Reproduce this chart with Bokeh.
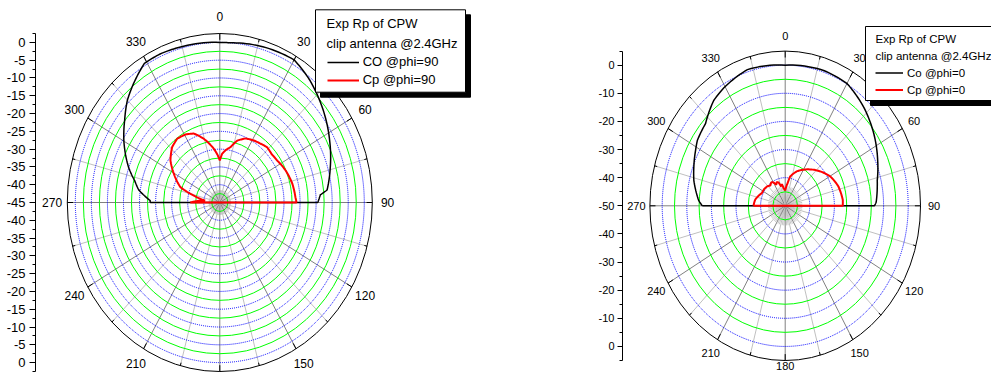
import numpy as np
from bokeh.plotting import figure
from bokeh.models import (Range1d, LinearAxis, FixedTicker, BoxAnnotation, Label,
                          Legend, LegendItem)
from bokeh.layouts import row
from bokeh.core.properties import value
from bokeh.embed import file_html
from bokeh.resources import INLINE

# ---------------- data (angle in degrees, gain in dB) ----------------
co90_ang = [-90, -88.5, -82, -77, -71, -60, -52, -45, -39, -31, -24, -16, 0, 4, 17, 30, 39, 51, 63, 74, 84, 86, 90]
co90_db = [-23.3, -23.3, -19.5, -17.8, -15.0, -10.5, -7.4, -4.3, -2.2, 0.6, 0.7, 0.4, 0.0, 0.0, 0.8, 1.3, -0.6, -3.6, -6.6, -9.2, -11.4, -13.6, -14.5]

cp90_ang = [-90, -83, -76.5, -70.6, -60.6, -52.4, -43.7, -36.5, -29.2, -22.7, -15.6, -7, -3, 0, 3, 7, 12.1, 17.3, 24, 31.3, 37, 43.6, 50, 56.5, 66.3, 76.8, 86.4, 90]
cp90_db = [-35.8, -40.4, -36.7, -32.0, -28.6, -25.6, -23.5, -22.7, -23.1, -24.0, -26.4, -29.8, -31.6, -33.2, -31.3, -30.2, -29.1, -26.8, -25.3, -24.6, -24.2, -23.6, -23.9, -23.6, -22.6, -21.8, -21.4, -21.1]

co0_ang = [-90, -87, -76.4, -69.7, -61.7, -57, -48, -37.8, -30.7, -17.6, 0, 18, 30.1, 42.4, 54.6, 66.8, 76.4, 80, 88, 90]
co0_db = [-16.3, -14.8, -11.8, -10.4, -8.6, -7.4, -6.4, -2.6, -1.2, 0.8, 0.0, 0.6, 0.2, -2.6, -5.8, -9.1, -11.5, -12.0, -13.0, -13.7]

cp0_ang = [-90, -80, -64.5, -55, -47, -40, -34, -30, -26, -22, -18, -14, -10, -6, 0, 4, 7, 11, 21, 30, 45.7, 60.4, 72.4, 84.8, 90]
cp0_db = [-37.1, -37.6, -39.5, -39.6, -39.9, -40.6, -39.9, -40.4, -41.7, -40.9, -41.3, -42.9, -42.2, -43.7, -44.6, -43.0, -41.9, -39.4, -36.9, -35.2, -32.0, -28.9, -27.3, -26.5, -26.6]

angle_labels = [0, 30, 60, 90, 120, 150, 180, 210, 240, 270, 300, 330]
left_ticks_db = [0, -5, -10, -15, -20, -25, -30, -35, -40, -45]
right_ticks_db = [0, -10, -20, -30, -40, -50]

legend_head = ["Exp Rp of CPW", "clip antenna @2.4GHz"]

FONT = "Liberation Sans"
H = 373


def polar_path(ang, db, floor, sub=10):
    """Trace a polar line between successive readings (arcs, as a polar plot draws them)."""
    a = np.asarray(ang, dtype=float)
    r = np.asarray(db, dtype=float) - floor
    xs, ys = [], []
    for i in range(len(a) - 1):
        f = np.linspace(0, 1, sub, endpoint=False)
        aa = np.radians(a[i] + (a[i + 1] - a[i]) * f)
        rr = r[i] + (r[i + 1] - r[i]) * f
        xs += list(rr * np.sin(aa))
        ys += list(rr * np.cos(aa))
    t = np.radians(a[-1])
    xs.append(r[-1] * np.sin(t))
    ys.append(r[-1] * np.cos(t))
    # close the trace (straight chord from +90 back to -90 through the centre)
    xs.append(xs[0])
    ys.append(ys[0])
    return xs, ys


def build(cfg, series, legend_labels):
    floor, top = cfg["floor"], cfg["top"]
    rmax = top - floor
    sx, sy = cfg["rx"] / rmax, cfg["ry"] / rmax
    cx, cy = cfg["cx"], cfg["cy"]
    fig_left, width, bl = cfg["fig_left"], cfg["width"], cfg["border_left"]
    frame_left = fig_left + bl

    def px2x(px):
        return (px - cx) / sx

    def px2y(py):
        return (cy - py) / sy

    p = figure(width=width, height=H, output_backend="svg", toolbar_location=None,
               x_range=Range1d(px2x(frame_left), px2x(fig_left + width)),
               y_range=Range1d(px2y(H), px2y(0)),
               x_axis_location=None, y_axis_location=None,
               min_border_left=bl, min_border_right=0, min_border_top=0, min_border_bottom=0,
               outline_line_color=None, background_fill_color="white", border_fill_color="white")
    p.grid.visible = False

    step = cfg["ring_step"]
    # fine spokes near the centre
    fxs, fys = [], []
    for a in range(0, 360, 5):
        if a % 15:
            t = np.radians(a)
            rr = 1.4 * step
            fxs.append([0, rr * np.sin(t)])
            fys.append([0, rr * np.cos(t)])
    p.multi_line(fxs, fys, line_color="#c8c8c8", line_width=1)
    # main spokes
    for a in range(0, 360, 15):
        t = np.radians(a)
        p.line([0, rmax * np.sin(t)], [0, rmax * np.cos(t)],
               line_color="#808080" if a % 30 == 0 else "#c0c0c0", line_width=1)
    # rings
    n = int(round(rmax / step))
    for k in range(1, n):
        r = k * step
        db = r + floor
        if abs(db % cfg["blue_step"]) < 1e-9:
            p.ellipse(0, 0, width=2 * r, height=2 * r, fill_alpha=0,
                      line_color="#0000ff", line_dash="1 1", line_width=1)
        else:
            p.ellipse(0, 0, width=2 * r, height=2 * r, fill_alpha=0,
                      line_color="#00ff00", line_width=1)
    p.ellipse(0, 0, width=2 * rmax, height=2 * rmax, fill_alpha=0, line_color="black", line_width=1)
    # outer angular ticks (inward)
    sc = (sx + sy) / 2
    txs, tys = [], []
    for a in range(0, 360, 15):
        t = np.radians(a)
        ln = (6 if a % 30 == 0 else 3) / sc
        txs.append([rmax * np.sin(t), (rmax - ln) * np.sin(t)])
        tys.append([rmax * np.cos(t), (rmax - ln) * np.cos(t)])
    p.multi_line(txs, tys, line_color="black", line_width=1)
    # angle labels
    labs = [a for a in angle_labels if a not in cfg["hide_angles"]]
    ta = np.radians(labs)
    rl = np.array([cfg["label_r"].get(a, 1.1) for a in labs]) * rmax
    p.text(x=rl * np.sin(ta), y=rl * np.cos(ta), text=[str(a) for a in labs],
           text_align="center", text_baseline="middle", text_font=value(FONT),
           text_font_size=cfg["angle_fs"], text_color="black")

    # curves
    renderers = []
    for (ang, db, color, lw) in series:
        xs, ys = polar_path(ang, db, floor)
        renderers.append(p.line(xs, ys, line_color=color, line_width=lw))

    # radial axis (mirrored scale)
    ticks, overrides = [], {}
    for d in cfg["ticks_db"]:
        rr = float(d - floor)
        for s in (1, -1):
            v = s * rr
            if v not in overrides:
                ticks.append(v)
                overrides[v] = str(d)
    minor = []
    m = cfg["minor_step"]
    k = 0
    while k * m <= rmax + 1e-9:
        minor += [k * m, -k * m]
        k += 1
    ax = LinearAxis(ticker=FixedTicker(ticks=sorted(ticks), minor_ticks=sorted(set(minor))),
                    major_label_overrides=overrides, bounds=(-rmax, rmax),
                    axis_line_color="black", major_tick_line_color="black", minor_tick_line_color="black",
                    major_tick_out=cfg["tick_out"], major_tick_in=0, minor_tick_out=3, minor_tick_in=0,
                    major_label_standoff=cfg["standoff"], major_label_text_font=FONT,
                    major_label_text_font_size=cfg["axis_fs"], major_label_text_color="black")
    p.add_layout(ax, "left")

    # legend frame with shadow
    bx0, by0, bx1, by1 = cfg["box"]
    off = 5
    p.add_layout(BoxAnnotation(left=px2x(bx0 + off), right=px2x(bx1 + off), top=px2y(by0 + off),
                               bottom=px2y(by1 + off), fill_color="black", fill_alpha=1,
                               line_color="black", line_alpha=1, line_dash="solid"))
    p.add_layout(BoxAnnotation(left=px2x(bx0), right=px2x(bx1), top=px2y(by0), bottom=px2y(by1),
                               fill_color="white", fill_alpha=1, line_color="black", line_width=1,
                               line_alpha=1, line_dash="solid"))
    tx, ty0, dy = cfg["head"]
    for i, txt in enumerate(legend_head):
        p.add_layout(Label(x=px2x(tx), y=px2y(ty0 + i * dy), text=txt, text_font=FONT,
                           text_font_size=cfg["legend_fs"], text_baseline="middle", text_align="left",
                           text_color="black"))
    lx, ltop = cfg["legend_pos"]
    gh = cfg["glyph_h"]
    leg = Legend(items=[LegendItem(label=legend_labels[i], renderers=[renderers[i]]) for i in range(2)],
                 location=(lx - frame_left, H - (ltop + 2 * gh + 2)),
                 padding=0, margin=0, spacing=2, glyph_width=cfg["glyph_w"], glyph_height=gh,
                 label_height=gh, label_width=10, label_standoff=4,
                 label_text_font=FONT, label_text_font_size=cfg["legend_fs"], label_text_color="black",
                 border_line_alpha=0, background_fill_alpha=0)
    p.add_layout(leg)
    return p


left_cfg = dict(fig_left=0, width=540, border_left=35, cx=219.3, cy=202.0, rx=152.5, ry=169.0,
                floor=-45, top=2.5, ring_step=2.5, blue_step=5, ticks_db=left_ticks_db, minor_step=2.5,
                tick_out=6, standoff=4, axis_fs="13px", angle_fs="12px", legend_fs="13px",
                box=(315, 9.3, 465, 91.7), head=(326, 23.3, 19.4), legend_pos=(326.7, 53.7),
                glyph_w=32, glyph_h=16, hide_angles=[180], label_r={})
right_cfg = dict(fig_left=540, width=451, border_left=82, cx=784.7, cy=205.3, rx=135.3, ry=154.7,
                 floor=-50, top=5, ring_step=5, blue_step=10, ticks_db=right_ticks_db, minor_step=5,
                 tick_out=5, standoff=3, axis_fs="11px", angle_fs="11px", legend_fs="11.5px",
                 box=(865, 26, 1010, 100), head=(875, 38.3, 16.7), legend_pos=(875, 65.2),
                 glyph_w=28, glyph_h=15, hide_angles=[], label_r={180: 1.035})

p1 = build(left_cfg, [(co90_ang, co90_db, "black", 1.5), (cp90_ang, cp90_db, "red", 2)],
           ["CO @phi=90", "Cp @phi=90"])
p2 = build(right_cfg, [(co0_ang, co0_db, "black", 1.5), (cp0_ang, cp0_db, "red", 2)],
           ["Co @phi=0", "Cp @phi=0"])

layout = row(p1, p2)
open("out.html", "w").write(file_html(layout, INLINE))
